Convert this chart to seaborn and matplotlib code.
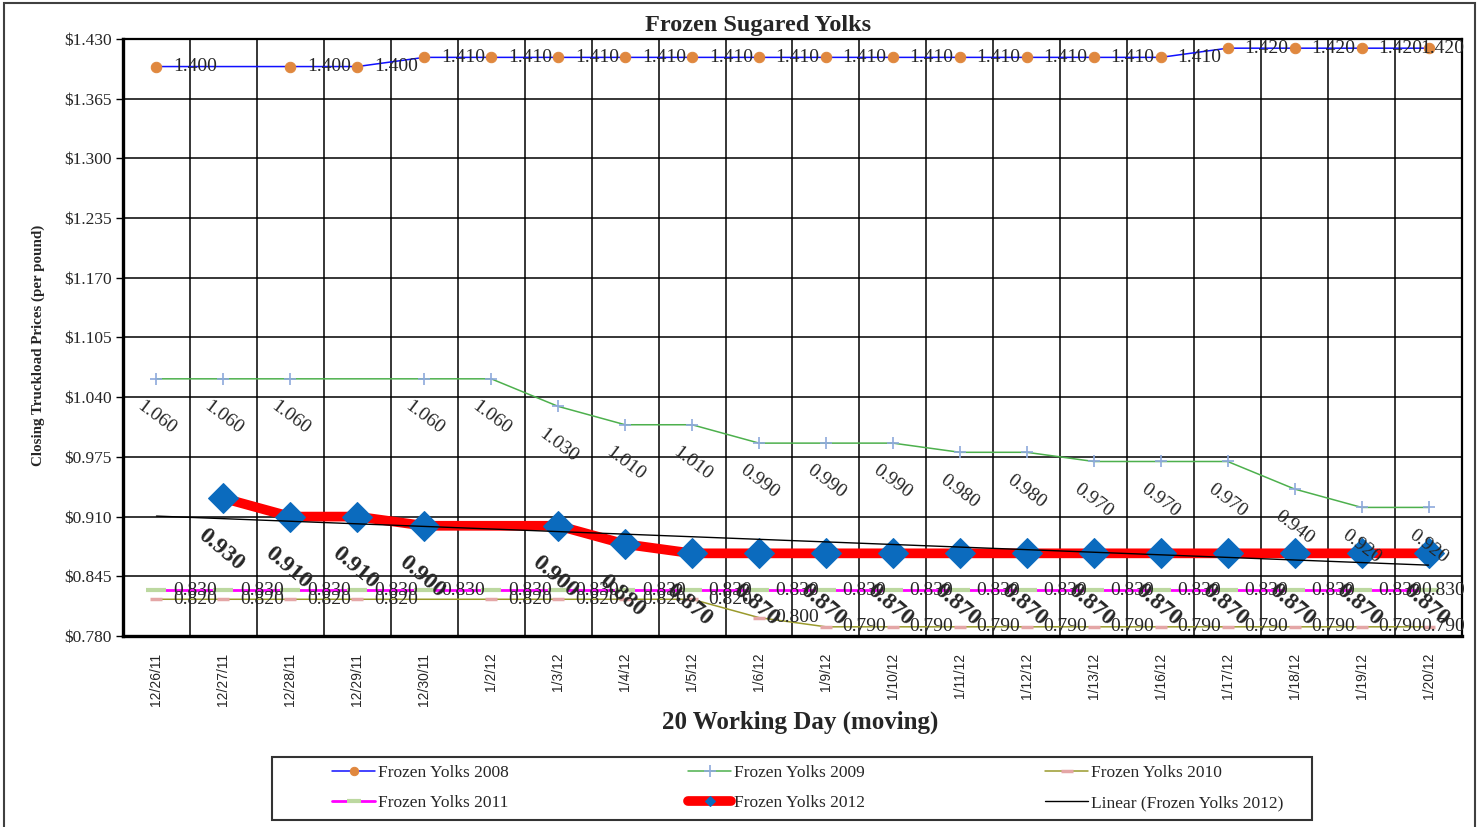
import numpy as np
import pandas as pd
import seaborn as sns
import matplotlib.pyplot as plt
from matplotlib import font_manager
from matplotlib.patches import Rectangle

nan = np.nan

days = ["12/26/11", "12/27/11", "12/28/11", "12/29/11", "12/30/11", "1/2/12", "1/3/12",
        "1/4/12", "1/5/12", "1/6/12", "1/9/12", "1/10/12", "1/11/12", "1/12/12",
        "1/13/12", "1/16/12", "1/17/12", "1/18/12", "1/19/12", "1/20/12"]

yolks_2008 = [1.400, nan, 1.400, 1.400, 1.410, 1.410, 1.410, 1.410, 1.410, 1.410,
              1.410, 1.410, 1.410, 1.410, 1.410, 1.410, 1.420, 1.420, 1.420, 1.420]
yolks_2009 = [1.060, 1.060, 1.060, nan, 1.060, 1.060, 1.030, 1.010, 1.010, 0.990,
              0.990, 0.990, 0.980, 0.980, 0.970, 0.970, 0.970, 0.940, 0.920, 0.920]
yolks_2010 = [0.820, 0.820, 0.820, 0.820, nan, 0.820, 0.820, 0.820, 0.820, 0.800,
              0.790, 0.790, 0.790, 0.790, 0.790, 0.790, 0.790, 0.790, 0.790, 0.790]
yolks_2011 = [0.830, 0.830, 0.830, 0.830, 0.830, 0.830, 0.830, 0.830, 0.830, 0.830,
              0.830, 0.830, 0.830, 0.830, 0.830, 0.830, 0.830, 0.830, 0.830, 0.830]
yolks_2012 = [nan, 0.930, 0.910, 0.910, 0.900, nan, 0.900, 0.880, 0.870, 0.870,
              0.870, 0.870, 0.870, 0.870, 0.870, 0.870, 0.870, 0.870, 0.870, 0.870]

y_ticks = [0.780, 0.845, 0.910, 0.975, 1.040, 1.105, 1.170, 1.235, 1.300, 1.365, 1.430]

W, H = 1482, 827
SERIF = "Liberation Serif"


def fx(px):
    return px / W


def fy(py):
    return 1 - py / H


def pick_narrow():
    names = {f.name for f in font_manager.fontManager.ttflist}
    if "Liberation Sans Narrow" in names:
        return "Liberation Sans Narrow", 12
    return "Liberation Sans", 10


def label_right(ax, x, y, size=14):
    # labels to the right of the point, last one pulled back inside the chart
    last = len(x) - 1
    for xi, yi in zip(x, y):
        if np.isnan(yi):
            continue
        if xi == last:
            kw = dict(xytext=(26, 0), ha="right")
        else:
            kw = dict(xytext=(12, 0), ha="left")
        ax.annotate(f"{yi:.3f}", (xi, yi), textcoords="offset points", va="center",
                    fontsize=size, zorder=10, annotation_clip=False, **kw)


def label_below(ax, x, y, **kw):
    for xi, yi in zip(x, y):
        if np.isnan(yi):
            continue
        ax.annotate(f"{yi:.3f}", (xi, yi), textcoords="offset points", ha="center",
                    va="center", zorder=10, annotation_clip=False, **kw)


def main():
    sns.set_style("white")
    plt.rcParams["font.family"] = [SERIF, "DejaVu Serif"]

    pos = np.arange(len(days))
    df = pd.DataFrame({"pos": pos, "y2008": yolks_2008, "y2009": yolks_2009,
                       "y2010": yolks_2010, "y2011": yolks_2011, "y2012": yolks_2012})

    fig = plt.figure(figsize=(W / 100, H / 100), dpi=100)
    ax = fig.add_axes([fx(123), fy(636), fx(1462) - fx(123), fy(39) - fy(636)])

    common = dict(ax=ax, errorbar=None, legend=False)
    d = df.dropna(subset=["y2008"])
    sns.lineplot(data=d, x="pos", y="y2008", color="#1010FF", linewidth=1.1, marker="o",
                 markersize=7.5, markerfacecolor="#E0883F", markeredgecolor="#E0883F",
                 label="Frozen Yolks 2008", zorder=3, **common)
    d = df.dropna(subset=["y2009"])
    sns.lineplot(data=d, x="pos", y="y2009", color="#4DB04D", linewidth=1.1, marker="+",
                 markersize=8, markeredgecolor="#8EA9DB", markeredgewidth=1.2,
                 label="Frozen Yolks 2009", zorder=3, **common)
    d = df.dropna(subset=["y2010"])
    sns.lineplot(data=d, x="pos", y="y2010", color="#9A9A2C", linewidth=1.1, marker="_",
                 markersize=8, markeredgecolor="#E4A6A6", markeredgewidth=2.5,
                 label="Frozen Yolks 2010", zorder=3, **common)
    d = df.dropna(subset=["y2011"])
    sns.lineplot(data=d, x="pos", y="y2011", color="#FF00FF", linewidth=2, marker="_",
                 markersize=14, markeredgecolor="#BCD8A0", markeredgewidth=3,
                 label="Frozen Yolks 2011", zorder=3, **common)
    d = df.dropna(subset=["y2012"])
    sns.lineplot(data=d, x="pos", y="y2012", color="#FF0000", linewidth=7, marker="D",
                 markersize=15, markerfacecolor="#0B6BBE", markeredgecolor="#0B6BBE",
                 label="Frozen Yolks 2012", zorder=4, **common)

    # linear trend of the 2012 prices
    slope, icpt = np.polyfit(d["pos"], d["y2012"], 1)
    trend = pd.DataFrame({"pos": pos, "trend": icpt + slope * pos})
    sns.lineplot(data=trend, x="pos", y="trend", color="black", linewidth=1,
                 label="Linear (Frozen Yolks 2012)", zorder=5, **common)

    # data labels
    label_right(ax, pos, yolks_2008)
    label_below(ax, pos, yolks_2009, xytext=(0, -28), rotation=-37, fontsize=14)
    label_right(ax, pos, yolks_2010)
    label_right(ax, pos, yolks_2011)
    label_below(ax, pos, yolks_2012, xytext=(-2, -37), rotation=-40, fontsize=17,
                fontweight="bold")

    ax.set_xlim(-0.5, len(days) - 0.5)
    ax.set_ylim(y_ticks[0], y_ticks[-1])
    ax.set_yticks(y_ticks)
    ax.set_yticklabels([f"${v:.3f}" for v in y_ticks], fontsize=12.5)
    ax.set_xticks(pos)
    narrow, nsize = pick_narrow()
    ax.set_xticklabels(days, rotation=90, family=narrow, fontsize=nsize)
    ax.set_xticks(np.arange(-0.5, len(days)), minor=True)
    ax.tick_params(axis="x", which="major", length=0, pad=12)
    ax.tick_params(axis="x", which="minor", length=7, width=1.2, color="black", direction="out")
    ax.tick_params(axis="y", length=5, width=1, color="black", direction="out", pad=3, left=True)
    ax.set_xlabel("")
    ax.set_ylabel("")

    ax.grid(False)
    ax.grid(True, axis="y", which="major", color="black", linewidth=1.1, zorder=1)
    ax.grid(True, axis="x", which="minor", color="black", linewidth=1.1, zorder=1)
    ax.set_axisbelow(True)
    for side in ["left", "bottom"]:
        ax.spines[side].set_linewidth(2.4)
        ax.spines[side].set_color("black")
    for side in ["top", "right"]:
        ax.spines[side].set_linewidth(1.6)
        ax.spines[side].set_color("black")

    fig.text(fx(758), fy(25), "Frozen Sugared Yolks", ha="center", va="center",
             fontsize=17.5, fontweight="bold")
    fig.text(fx(800), fy(722), "20 Working Day (moving)", ha="center", va="center",
             fontsize=18, fontweight="bold")
    fig.text(fx(38), fy(345), "Closing Truckload Prices (per pound)", ha="center",
             va="center", rotation=90, fontsize=10.8, fontweight="bold")

    # legend box with three columns
    fig.patches.append(Rectangle((fx(272), fy(820)), fx(1312) - fx(272), fy(757) - fy(820),
                                 transform=fig.transFigure, facecolor="white",
                                 edgecolor="#333333", linewidth=1.5, zorder=0))
    handles, labels = ax.get_legend_handles_labels()
    order = [[0, 3], [1, 4], [2, 5]]
    for col, xs in zip(order, [332, 688, 1045]):
        leg = fig.legend([handles[i] for i in col], [labels[i] for i in col],
                         loc="center left", bbox_to_anchor=(fx(xs), fy(788)),
                         frameon=False, borderpad=0, borderaxespad=0, handlelength=2.5,
                         handletextpad=0.15, labelspacing=0.8, prop={"family": SERIF, "size": 12.5})
        for h, i in zip(leg.legend_handles, col):
            if i == 4:
                h.set_markersize(5)
            elif i == 0:
                h.set_markersize(6)
            elif i == 3:
                h.set_markersize(10)

    # outer chart border
    fig.patches.append(Rectangle((fx(4), fy(829)), fx(1475) - fx(4), fy(3) - fy(829),
                                 transform=fig.transFigure, fill=False,
                                 edgecolor="#404040", linewidth=1.5))

    fig.savefig("out.png", dpi=100)


if __name__ == "__main__":
    main()
